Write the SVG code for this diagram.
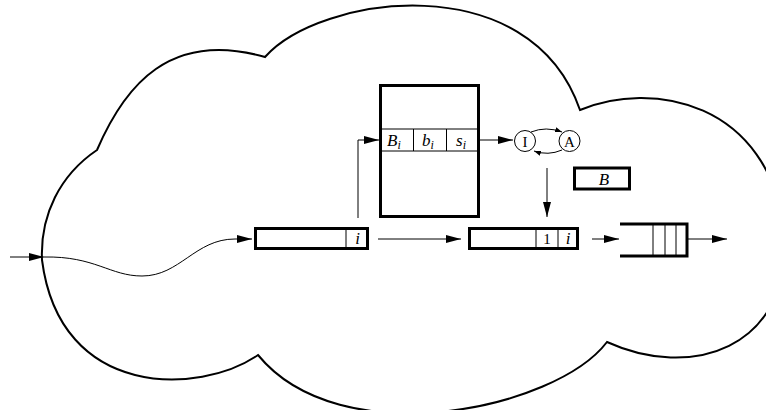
<svg xmlns="http://www.w3.org/2000/svg" width="766" height="410" viewBox="0 0 766 410">
<style>
.cloud{fill:none;stroke:#000;stroke-width:2;stroke-linejoin:miter}
.thick{fill:#fff;stroke:#000;stroke-width:3}
.thin{fill:none;stroke:#000;stroke-width:1}
.con{fill:none;stroke:#000;stroke-width:1}
.m{font-family:"Liberation Serif","DejaVu Serif",serif;font-style:italic;font-size:17px;fill:#000}
.r{font-family:"Liberation Serif","DejaVu Serif",serif;font-size:15px;fill:#000}
.sub{font-size:12px}
</style>
<defs>
<marker id="ah" markerWidth="15" markerHeight="8" refX="15" refY="4" orient="auto" markerUnits="userSpaceOnUse"><path d="M0,0 L15,4 L0,8 z" fill="#000"/></marker>
<marker id="as" markerWidth="7" markerHeight="5" refX="7" refY="2.5" orient="auto" markerUnits="userSpaceOnUse"><path d="M0,0 L7,2.5 L0,5 z" fill="#000"/></marker>
</defs>
<rect width="766" height="410" fill="#fff"/>
<g id="cloud">
<path class="cloud" d="M265,57 C320,-5 530,-35 580,110 C650,80 770,100 785,235 C790,350 690,380 607,342 C555,410 340,455 258,355 C200,395 60,400 42,260 C40,215 60,175 97,150 C125,85 170,30 265,57 Z"/>
</g>
<g id="hash">
<rect class="thick" x="380.5" y="85.5" width="98" height="131"/>
<line class="thin" x1="382" y1="129" x2="477" y2="129"/>
<line class="thin" x1="382" y1="151" x2="477" y2="151"/>
<line class="thin" x1="413.5" y1="129" x2="413.5" y2="151"/>
<line class="thin" x1="446.5" y1="129" x2="446.5" y2="151"/>
<text class="m" x="387" y="146">B<tspan class="sub" dy="3">i</tspan></text>
<text class="m" x="422" y="146">b<tspan class="sub" dy="3">i</tspan></text>
<text class="m" x="456" y="146">s<tspan class="sub" dy="3">i</tspan></text>
</g>
<g id="stateI">
<circle class="thin" cx="525" cy="141" r="10.5" fill="#fff"/>
<text class="r" x="525" y="146.5" text-anchor="middle">I</text>
</g>
<g id="stateA">
<circle class="thin" cx="569.5" cy="141" r="10.5" fill="#fff"/>
<text class="r" x="569.5" y="146.5" text-anchor="middle">A</text>
</g>
<g id="boxB">
<rect class="thick" x="574.5" y="168" width="55" height="21"/>
<text class="m" x="604" y="185" text-anchor="middle">B</text>
</g>
<g id="record1">
<rect class="thick" x="255.5" y="228.5" width="112" height="20"/>
<line class="thin" x1="346" y1="230" x2="346" y2="247"/>
<text class="m" x="357.5" y="244" text-anchor="middle">i</text>
</g>
<g id="record2">
<rect class="thick" x="469.5" y="228.5" width="108" height="20"/>
<line class="thin" x1="536" y1="230" x2="536" y2="247"/>
<line class="thin" x1="558" y1="230" x2="558" y2="247"/>
<text class="r" x="547" y="244" text-anchor="middle">1</text>
<text class="m" x="568" y="244" text-anchor="middle">i</text>
</g>
<g id="queue">
<line class="thin" x1="653" y1="224" x2="653" y2="256"/>
<line class="thin" x1="665" y1="224" x2="665" y2="256"/>
<line class="thin" x1="676" y1="224" x2="676" y2="256"/>
<path d="M620,224 L687,224 L687,256 L620,256" fill="none" stroke="#000" stroke-width="3"/>
</g>
<g id="connectors">
<line class="con" x1="10" y1="257" x2="44" y2="257" marker-end="url(#ah)"/>
<path class="con" d="M44,257 C95,256 110,276 142,276 C180,276 195,239 235,239 L252,239" marker-end="url(#ah)"/>
<path class="con" d="M358,218 L358,140 L379,140" marker-end="url(#ah)"/>
<line class="con" x1="480" y1="140" x2="513" y2="140" marker-end="url(#ah)"/>
<path class="con" d="M531,132 Q546,126 562,132" marker-end="url(#as)"/>
<path class="con" d="M562,150 Q548,156 534,151" marker-end="url(#as)"/>
<line class="con" x1="547" y1="168" x2="547" y2="217" marker-end="url(#ah)"/>
<line class="con" x1="378" y1="239" x2="461" y2="239" marker-end="url(#ah)"/>
<line class="con" x1="592" y1="239" x2="619" y2="239" marker-end="url(#ah)"/>
<line class="con" x1="688" y1="239" x2="727" y2="239" marker-end="url(#ah)"/>
</g>
</svg>
